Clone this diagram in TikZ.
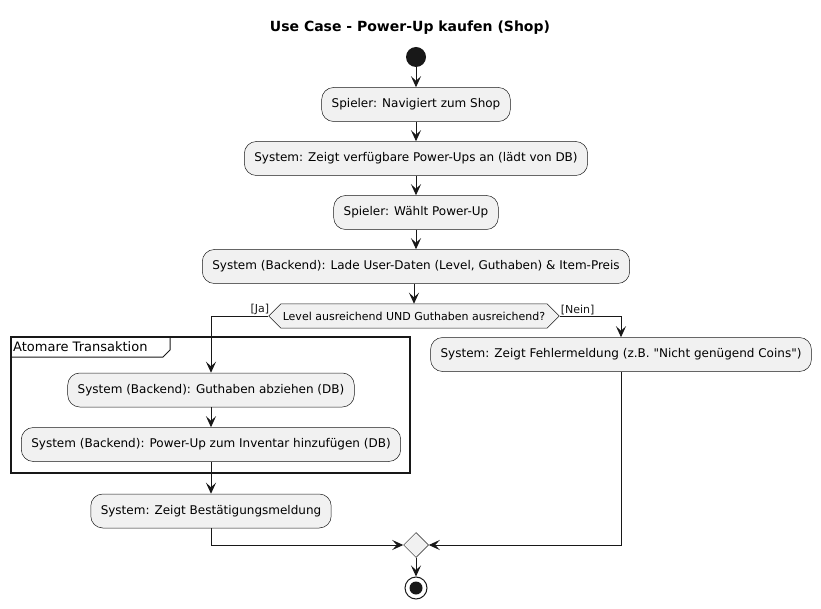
\documentclass[tikz,border=0pt]{standalone}
\usepackage{fontspec}
\setmainfont{DejaVu Sans}[Ligatures=TeXOff]
\usetikzlibrary{arrows.meta,shapes.geometric,shapes.symbols}
\definecolor{boxfill}{HTML}{F1F1F1}
\definecolor{ink}{HTML}{181818}
\begin{document}
\begin{tikzpicture}[x=1pt,y=-1pt,
  act/.style={draw=ink, line width=0.5pt, fill=boxfill, rounded corners=12pt,
    minimum height=34pt, inner xsep=10pt, font=\fontsize{12}{14}\selectfont},
  arr/.style={draw=ink, line width=1pt, -{Stealth[length=11pt,width=10pt,inset=4.5pt]}},
  ln/.style={draw=ink, line width=1pt},
  lbl/.style={font=\fontsize{11}{13}\selectfont, inner sep=1pt, text=ink}]
\useasboundingbox (0,0) rectangle (821,609);
\node[font=\fontsize{14}{16}\selectfont\bfseries] (title) at (410,28) {Use Case - Power-Up kaufen (Shop)};
\node[circle, fill=ink, minimum size=20pt, inner sep=0pt] (start) at (416,57) {};
\node[act] (b1) at (416,104.5) {Spieler: Navigiert zum Shop};
\node[act] (b2) at (416,158.5) {System: Zeigt verfügbare Power-Ups an (lädt von DB)};
\node[act] (b3) at (416,212.5) {Spieler: Wählt Power-Up};
\node[act] (b4) at (416,266.5) {System (Backend): Lade User-Daten (Level, Guthaben) \& Item-Preis};
\node[signal, signal to=east and west, signal pointer angle=90, draw=ink, line width=0.5pt, fill=boxfill,
  minimum height=24pt, inner xsep=2pt, inner ysep=0pt, font=\fontsize{11}{13}\selectfont] (dec) at (414,316) {Level ausreichend UND Guthaben ausreichend?};
% frame
\draw[ink, line width=1.5pt] (11,337) rectangle (410,473);
\draw[ink, line width=1pt] (11,357) -- (163,357) -- (170,350) -- (170,337);
\node[anchor=west, font=\fontsize{13}{15}\selectfont, inner sep=0pt] (frame) at (13,347) {Atomare Transaktion};
\node[act] (b5) at (211,390) {System (Backend): Guthaben abziehen (DB)};
\node[act] (b6) at (211,444.5) {System (Backend): Power-Up zum Inventar hinzufügen (DB)};
\node[act] (b7) at (211,511) {System: Zeigt Bestätigungsmeldung};
\node[act] (b8) at (621,354.5) {System: Zeigt Fehlermeldung (z.B. "Nicht genügend Coins")};
\node[diamond, draw=ink, line width=0.5pt, fill=boxfill, minimum size=25pt, inner sep=0pt] (merge) at (416,545) {};
\node[circle, draw=ink, line width=1pt, minimum size=22pt, inner sep=0pt] (endo) at (416,588) {};
\node[circle, fill=ink, minimum size=13pt, inner sep=0pt] (endi) at (416,588) {};
% connectors
\draw[arr] (start) -- (b1);
\draw[arr] (b1) -- (b2);
\draw[arr] (b2) -- (b3);
\draw[arr] (b3) -- (b4);
\draw[arr] (b4.south -| dec.north) -- (dec.north);
\draw[arr] (dec.west) -| (b5.north);
\node[lbl, anchor=south east] (ja) at ([xshift=2pt]dec.west) {[Ja]};
\draw[arr] (dec.east) -| (b8.north);
\node[lbl, anchor=south west] (nein) at (dec.east) {[Nein]};
\draw[arr] (b5) -- (b6);
\draw[arr] (b6) -- (b7);
\draw[arr] (b7.south) |- (merge.west);
\draw[arr] (b8.south) |- (merge.east);
\draw[arr] (merge) -- (endo);
\end{tikzpicture}
\end{document}
